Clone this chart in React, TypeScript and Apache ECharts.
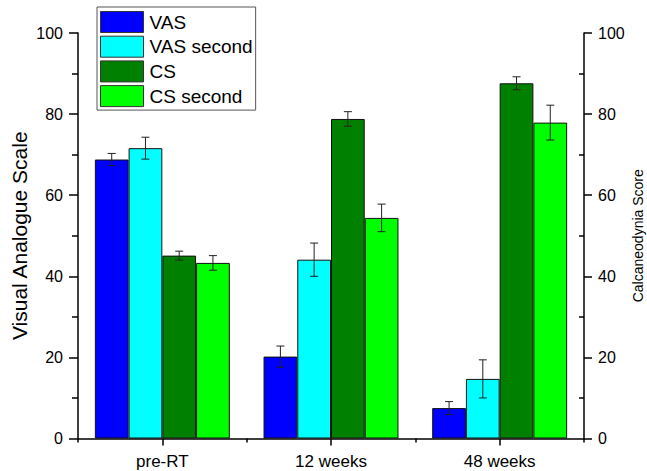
import React, { useEffect, useRef } from "react";
import * as echarts from "echarts";

const categories = ["pre-RT", "12 weeks", "48 weeks"];
const seriesNames = ["VAS", "VAS second", "CS", "CS second"];
const vas = [68.8, 20.2, 7.5];
const vasErr = [1.5, 2.6, 1.6];
const vasSecond = [71.6, 44.1, 14.7];
const vasSecondErr = [2.7, 4.1, 4.7];
const cs = [45.1, 78.8, 87.6];
const csErr = [1.1, 1.8, 1.6];
const csSecond = [43.3, 54.4, 77.9];
const csSecondErr = [1.8, 3.4, 4.3];
const colors = ["#0000FF", "#00FFFF", "#008000", "#00FF00"];

const FONT = "Liberation Sans, Arial, sans-serif";

export default function App() {
  const ref = useRef<HTMLDivElement>(null);
  useEffect(() => {
    if (!ref.current) return;
    const chart = echarts.init(ref.current, undefined, { renderer: "svg" });
    const values = [vas, vasSecond, cs, csSecond];
    const errs = [vasErr, vasSecondErr, csErr, csSecondErr];
    const barSeries = values.map((v, k) => ({
      type: "bar",
      name: seriesNames[k],
      data: v,
      yAxisIndex: k < 2 ? 0 : 1,
      barGap: "0%",
      barCategoryGap: "20%",
      itemStyle: { color: colors[k], borderColor: "#111", borderWidth: 1 },
      z: 2,
    }));
    const errSeries = values.map((v, k) => ({
      type: "custom",
      name: "err" + k,
      yAxisIndex: k < 2 ? 0 : 1,
      data: v.map((val, i) => [i, val - errs[k][i], val + errs[k][i]]),
      encode: { x: 0, y: [1, 2] },
      z: 5,
      renderItem: (params: any, api: any) => {
        const x = api.value(0);
        const lo = api.value(1);
        const hi = api.value(2);
        const band = api.size([1, 0])[0];
        const bw = band * 0.2;
        const off = (k - 1.5) * bw;
        const pHi = api.coord([x, hi]);
        const pLo = api.coord([x, lo]);
        const cx = pHi[0] + off;
        const h = 4;
        const st = { stroke: "#222", lineWidth: 1 };
        return {
          type: "group",
          children: [
            { type: "line", shape: { x1: cx, y1: pHi[1], x2: cx, y2: pLo[1] }, style: st },
            { type: "line", shape: { x1: cx - h, y1: pHi[1], x2: cx + h, y2: pHi[1] }, style: st },
            { type: "line", shape: { x1: cx - h, y1: pLo[1], x2: cx + h, y2: pLo[1] }, style: st },
          ],
        };
      },
    }));
    const axisLine = { show: true, lineStyle: { color: "#000", width: 1.5 } };
    chart.setOption({
      animation: false,
      textStyle: { fontFamily: FONT },
      grid: { left: 78, right: 63, top: 33, bottom: 32.5, containLabel: false, outerBoundsMode: "none" },
      legend: {
        data: seriesNames,
        orient: "vertical",
        left: 97,
        top: 7,
        padding: [4, 3, 3, 3],
        itemWidth: 43,
        itemHeight: 21,
        itemGap: 2.7,
        borderColor: "#555",
        borderWidth: 1,
        backgroundColor: "#fff",
        icon: "rect",
        itemStyle: { borderColor: "#333", borderWidth: 1 },
        textStyle: { fontSize: 19, color: "#000", fontFamily: FONT, padding: [0, 0, 0, 1] },
      },
      xAxis: [
        {
          type: "category",
          data: categories,
          position: "bottom",
          axisLine,
          axisTick: { show: true, alignWithLabel: true, length: 7, lineStyle: { color: "#000", width: 1.5 } },
          axisLabel: { fontSize: 17, color: "#000", margin: 14, fontFamily: FONT },
        },
        {
          type: "category",
          data: categories,
          position: "bottom",
          axisLine: { show: false },
          axisTick: { show: true, alignWithLabel: false, length: 4, lineStyle: { color: "#000", width: 1.5 } },
          axisLabel: { show: false },
        },
      ],
      yAxis: [
        {
          type: "value",
          min: 0,
          max: 100,
          interval: 20,
          position: "left",
          name: "Visual Analogue Scale",
          nameLocation: "middle",
          nameRotate: 90,
          nameGap: 48,
          nameMoveOverlap: false,
          nameTextStyle: { fontSize: 21, color: "#000", fontFamily: FONT },
          axisLine,
          axisTick: { show: true, length: 9, lineStyle: { color: "#000", width: 1.5 } },
          minorTick: { show: true, splitNumber: 2, length: 6, lineStyle: { color: "#000", width: 1.5 } },
          splitLine: { show: false },
          axisLabel: { fontSize: 16, color: "#000", margin: 15, fontFamily: FONT },
        },
        {
          type: "value",
          min: 0,
          max: 100,
          interval: 20,
          position: "right",
          name: "Calcaneodynia Score",
          nameLocation: "middle",
          nameRotate: 90,
          nameGap: 47,
          nameMoveOverlap: false,
          nameTextStyle: { fontSize: 14, color: "#000", fontFamily: FONT },
          axisLine,
          axisTick: { show: true, length: 8, lineStyle: { color: "#000", width: 1.5 } },
          splitLine: { show: false },
          axisLabel: { fontSize: 16, color: "#000", margin: 14, fontFamily: FONT },
        },
        {
          type: "value",
          min: 0,
          max: 100,
          interval: 20,
          position: "right",
          axisLine: { show: false },
          axisTick: { show: false, inside: true },
          minorTick: { show: true, splitNumber: 2, length: 5, lineStyle: { color: "#000", width: 1.5 } },
          splitLine: { show: false },
          axisLabel: { show: false },
        },
      ],
      series: [...barSeries, ...errSeries],
    });
    return () => chart.dispose();
  }, []);
  return (
    <div
      ref={ref}
      style={{ position: "fixed", left: 0, top: 0, width: 647, height: 471, background: "#fff" }}
    />
  );
}
